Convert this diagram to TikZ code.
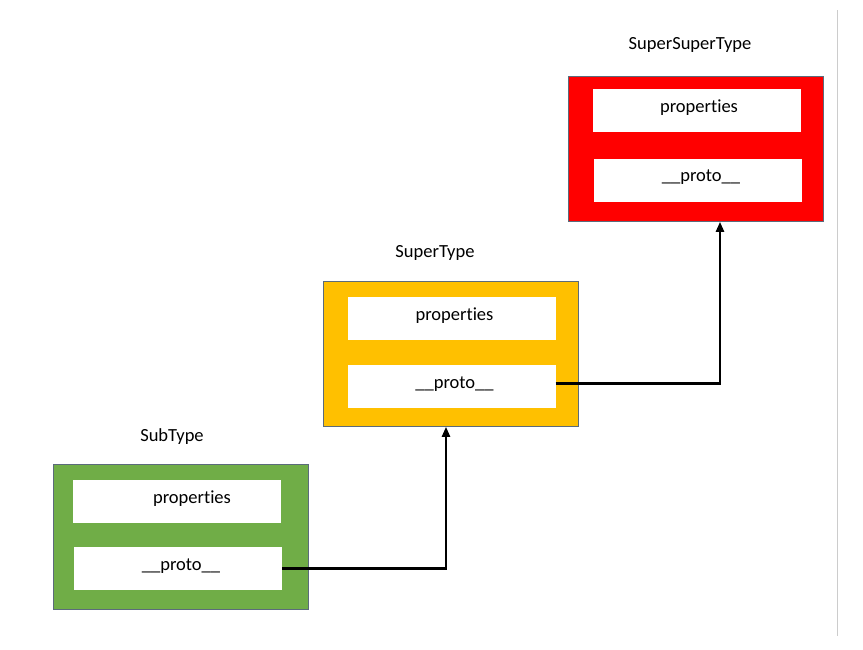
\documentclass[tikz,border=0pt]{standalone}
\usepackage{fontspec}
\setmainfont{Carlito}[Ligatures={NoCommon}]
\usetikzlibrary{arrows.meta}
\definecolor{cred}{HTML}{FF0000}
\definecolor{cyel}{HTML}{FFC000}
\definecolor{cgrn}{HTML}{70AD47}
\definecolor{cbord}{HTML}{5B6B7B}
\begin{document}
\begin{tikzpicture}[x=1pt,y=-1pt,
  outer/.style={draw=cbord,line width=0.8pt,minimum width=255pt,minimum height=145pt,inner sep=0pt,anchor=north west},
  field/.style={fill=white,minimum width=208pt,minimum height=43pt,inner sep=0pt},
  txt/.style={inner sep=0pt,text height=13pt,text depth=10pt,font=\fontsize{18.5}{22}\selectfont},
  title/.style={font=\fontsize{18.5}{22}\selectfont},
  link/.style={line width=2.3pt,-{Triangle[width=8pt,length=10pt]}}]
\useasboundingbox (0,0) rectangle (863,649);
\draw[gray!40,line width=1pt] (837,10) -- (837,636);
% SuperSuperType
\node[outer,fill=cred] (ssbox) at (568,76) {};
\node[field] (ssprop) at (697,110.5) {};
\node[field] (ssproto) at (698,180) {};
\node[txt,xshift=2pt] (ssproptxt) at (ssprop) {properties};
\node[txt,xshift=3pt] (ssprototxt) at (ssproto) {\_\_proto\_\_};
\node[title] (sstitle) at (690,45) {SuperSuperType};
% SuperType
\node[outer,fill=cyel] (sbox) at (323,281) {};
\node[field] (sprop) at (451.5,318.5) {};
\node[field] (sproto) at (451.5,386.5) {};
\node[txt,xshift=3pt] (sproptxt) at (sprop) {properties};
\node[txt,xshift=3pt] (sprototxt) at (sproto) {\_\_proto\_\_};
\node[title] (stitle) at (435,253) {SuperType};
% SubType
\node[outer,fill=cgrn] (bbox) at (53,464) {};
\node[field] (bprop) at (177,501.5) {};
\node[field] (bproto) at (178,568.5) {};
\node[txt,xshift=15pt] (bproptxt) at (bprop) {properties};
\node[txt,xshift=3pt] (bprototxt) at (bproto) {\_\_proto\_\_};
\node[title] (btitle) at (172,437) {SubType};
% links
\coordinate (k1) at (446,568.5);
\coordinate (k2) at (720,383.5);
\draw[link] (bproto.east) -- (k1) -- (k1 |- sbox.south);
\draw[link] (sproto.east |- k2) -- (k2) -- (k2 |- ssbox.south);
\end{tikzpicture}
\end{document}
